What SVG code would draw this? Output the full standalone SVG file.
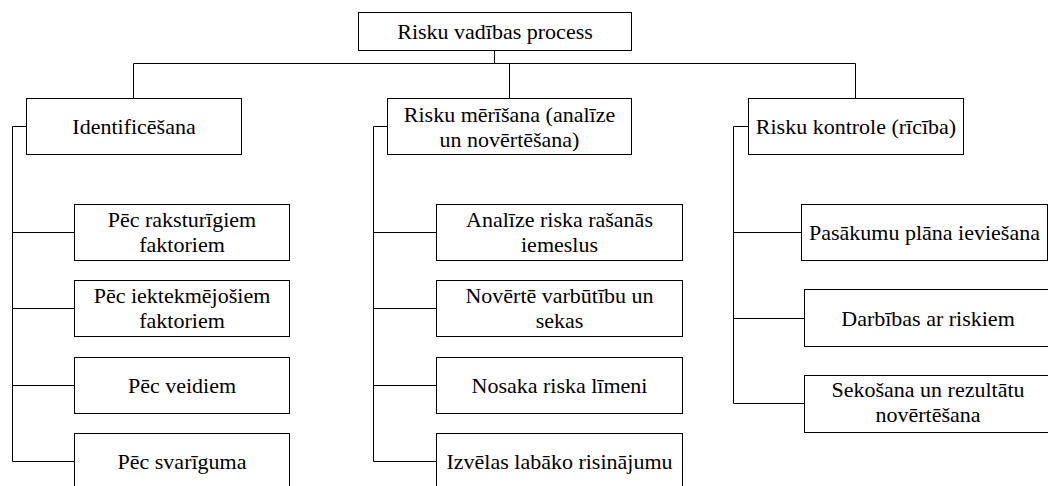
<svg xmlns="http://www.w3.org/2000/svg" width="1048" height="486" viewBox="0 0 1048 486">
<style>
.box{fill:#fff;stroke:#000;stroke-width:1}
.t{font-size:22px;fill:#000;text-anchor:middle;font-family:'Liberation Serif','Times New Roman',serif}
.c{fill:none;stroke:#000;stroke-width:1}
</style>
<rect x="0" y="0" width="1048" height="486" fill="#fff"/>
<g id="connectors">
<path class="c" d="M494.5 50V63.5H133.5V98M494.5 63.5H855.5V98M509.5 63.5V98"/>
<path class="c" d="M26 126.5H12.5V461.5H74M12.5 232.5H74M12.5 308.5H74M12.5 385.5H74"/>
<path class="c" d="M387 126.5H373.5V461.5H436M373.5 232.5H436M373.5 308.5H436M373.5 385.5H436"/>
<path class="c" d="M748 126.5H733.5V403.5H804M733.5 232.5H801M733.5 318.5H804"/>
</g>
<g id="root"><rect class="box" x="358.5" y="12.5" width="273" height="38"/><text class="t" x="495" y="38.5">Risku vadības process</text></g>
<g id="identificesana"><rect class="box" x="26.5" y="98.5" width="215" height="56"/><text class="t" x="134" y="133.5">Identificēšana</text></g>
<g id="merisana"><rect class="box" x="387.5" y="98.5" width="244" height="56"/><text class="t" x="509.5" y="121.5">Risku mērīšana (analīze</text><text class="t" x="509.5" y="146.5">un novērtēšana)</text></g>
<g id="kontrole"><rect class="box" x="748.5" y="98.5" width="215" height="56"/><text class="t" x="856" y="133.5">Risku kontrole (rīcība)</text></g>
<g id="l1"><rect class="box" x="74.5" y="204.5" width="215" height="56"/><text class="t" x="182" y="227">Pēc raksturīgiem</text><text class="t" x="182" y="252">faktoriem</text></g>
<g id="l2"><rect class="box" x="74.5" y="280.5" width="215" height="56"/><text class="t" x="182" y="303">Pēc iektekmējošiem</text><text class="t" x="182" y="328">faktoriem</text></g>
<g id="l3"><rect class="box" x="74.5" y="357.5" width="215" height="56"/><text class="t" x="182" y="392.5">Pēc veidiem</text></g>
<g id="l4"><rect class="box" x="74.5" y="433.5" width="215" height="58"/><text class="t" x="182" y="469">Pēc svarīguma</text></g>
<g id="m1"><rect class="box" x="436.5" y="204.5" width="246" height="56"/><text class="t" x="559.5" y="227">Analīze riska rašanās</text><text class="t" x="559.5" y="252">iemeslus</text></g>
<g id="m2"><rect class="box" x="436.5" y="280.5" width="246" height="56"/><text class="t" x="559.5" y="303">Novērtē varbūtību un</text><text class="t" x="559.5" y="328">sekas</text></g>
<g id="m3"><rect class="box" x="436.5" y="357.5" width="246" height="56"/><text class="t" x="559.5" y="392.5">Nosaka riska līmeni</text></g>
<g id="m4"><rect class="box" x="436.5" y="433.5" width="246" height="58"/><text class="t" x="559.5" y="469">Izvēlas labāko risinājumu</text></g>
<g id="r1"><rect class="box" x="801.5" y="204.5" width="246" height="56"/><text class="t" x="924.5" y="239.5">Pasākumu plāna ieviešana</text></g>
<g id="r2"><rect class="box" x="804.5" y="289.5" width="250" height="57"/><text class="t" x="928" y="325.5">Darbības ar riskiem</text></g>
<g id="r3"><rect class="box" x="804.5" y="375.5" width="250" height="57"/><text class="t" x="928" y="397">Sekošana un rezultātu</text><text class="t" x="928" y="422">novērtēšana</text></g>
</svg>
